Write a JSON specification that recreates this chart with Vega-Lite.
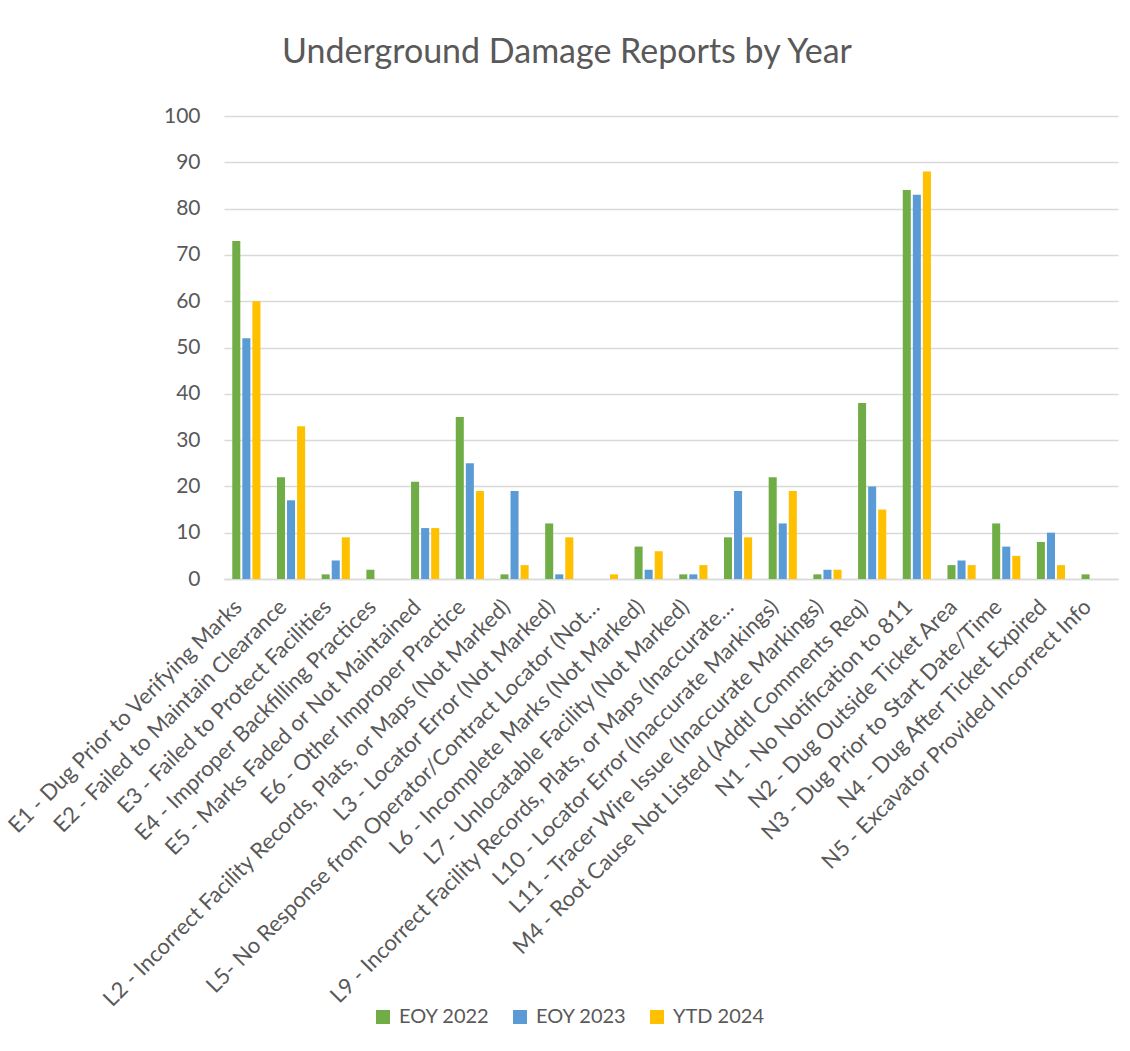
{
  "$schema": "https://vega.github.io/schema/vega-lite/v6.json",
  "autosize": {"type": "none"},
  "width": 894,
  "height": 463,
  "padding": {"left": 224, "top": 116, "right": 12, "bottom": 472},
  "background": "white",
  "title": {
    "text": "Underground Damage Reports by Year",
    "font": "Lato",
    "fontSize": 34,
    "fontWeight": 400,
    "color": "#595959",
    "anchor": "middle",
    "dx": -104,
    "offset": 35
  },
  "data": {
    "values": [
      {"cause": "E1 - Dug Prior to Verifying Marks", "series": "EOY 2022", "value": 73},
      {"cause": "E1 - Dug Prior to Verifying Marks", "series": "EOY 2023", "value": 52},
      {"cause": "E1 - Dug Prior to Verifying Marks", "series": "YTD 2024", "value": 60},
      {"cause": "E2 - Failed to Maintain Clearance", "series": "EOY 2022", "value": 22},
      {"cause": "E2 - Failed to Maintain Clearance", "series": "EOY 2023", "value": 17},
      {"cause": "E2 - Failed to Maintain Clearance", "series": "YTD 2024", "value": 33},
      {"cause": "E3 - Failed to Protect Facilities", "series": "EOY 2022", "value": 1},
      {"cause": "E3 - Failed to Protect Facilities", "series": "EOY 2023", "value": 4},
      {"cause": "E3 - Failed to Protect Facilities", "series": "YTD 2024", "value": 9},
      {"cause": "E4 - Improper Backfilling Practices", "series": "EOY 2022", "value": 2},
      {"cause": "E4 - Improper Backfilling Practices", "series": "EOY 2023", "value": 0},
      {"cause": "E4 - Improper Backfilling Practices", "series": "YTD 2024", "value": 0},
      {"cause": "E5 - Marks Faded or Not Maintained", "series": "EOY 2022", "value": 21},
      {"cause": "E5 - Marks Faded or Not Maintained", "series": "EOY 2023", "value": 11},
      {"cause": "E5 - Marks Faded or Not Maintained", "series": "YTD 2024", "value": 11},
      {"cause": "E6 - Other Improper Practice", "series": "EOY 2022", "value": 35},
      {"cause": "E6 - Other Improper Practice", "series": "EOY 2023", "value": 25},
      {"cause": "E6 - Other Improper Practice", "series": "YTD 2024", "value": 19},
      {"cause": "L2 - Incorrect Facility Records, Plats, or Maps (Not Marked)", "series": "EOY 2022", "value": 1},
      {"cause": "L2 - Incorrect Facility Records, Plats, or Maps (Not Marked)", "series": "EOY 2023", "value": 19},
      {"cause": "L2 - Incorrect Facility Records, Plats, or Maps (Not Marked)", "series": "YTD 2024", "value": 3},
      {"cause": "L3 - Locator Error (Not Marked)", "series": "EOY 2022", "value": 12},
      {"cause": "L3 - Locator Error (Not Marked)", "series": "EOY 2023", "value": 1},
      {"cause": "L3 - Locator Error (Not Marked)", "series": "YTD 2024", "value": 9},
      {"cause": "L5- No Response from Operator/Contract Locator (Not…", "series": "EOY 2022", "value": 0},
      {"cause": "L5- No Response from Operator/Contract Locator (Not…", "series": "EOY 2023", "value": 0},
      {"cause": "L5- No Response from Operator/Contract Locator (Not…", "series": "YTD 2024", "value": 1},
      {"cause": "L6 - Incomplete Marks (Not Marked)", "series": "EOY 2022", "value": 7},
      {"cause": "L6 - Incomplete Marks (Not Marked)", "series": "EOY 2023", "value": 2},
      {"cause": "L6 - Incomplete Marks (Not Marked)", "series": "YTD 2024", "value": 6},
      {"cause": "L7 - Unlocatable Facility (Not Marked)", "series": "EOY 2022", "value": 1},
      {"cause": "L7 - Unlocatable Facility (Not Marked)", "series": "EOY 2023", "value": 1},
      {"cause": "L7 - Unlocatable Facility (Not Marked)", "series": "YTD 2024", "value": 3},
      {"cause": "L9 - Incorrect Facility Records, Plats, or Maps (Inaccurate…", "series": "EOY 2022", "value": 9},
      {"cause": "L9 - Incorrect Facility Records, Plats, or Maps (Inaccurate…", "series": "EOY 2023", "value": 19},
      {"cause": "L9 - Incorrect Facility Records, Plats, or Maps (Inaccurate…", "series": "YTD 2024", "value": 9},
      {"cause": "L10 - Locator Error (Inaccurate Markings)", "series": "EOY 2022", "value": 22},
      {"cause": "L10 - Locator Error (Inaccurate Markings)", "series": "EOY 2023", "value": 12},
      {"cause": "L10 - Locator Error (Inaccurate Markings)", "series": "YTD 2024", "value": 19},
      {"cause": "L11 - Tracer Wire Issue (Inaccurate Markings)", "series": "EOY 2022", "value": 1},
      {"cause": "L11 - Tracer Wire Issue (Inaccurate Markings)", "series": "EOY 2023", "value": 2},
      {"cause": "L11 - Tracer Wire Issue (Inaccurate Markings)", "series": "YTD 2024", "value": 2},
      {"cause": "M4 - Root Cause Not Listed (Addtl Comments Req)", "series": "EOY 2022", "value": 38},
      {"cause": "M4 - Root Cause Not Listed (Addtl Comments Req)", "series": "EOY 2023", "value": 20},
      {"cause": "M4 - Root Cause Not Listed (Addtl Comments Req)", "series": "YTD 2024", "value": 15},
      {"cause": "N1 - No Notification to 811", "series": "EOY 2022", "value": 84},
      {"cause": "N1 - No Notification to 811", "series": "EOY 2023", "value": 83},
      {"cause": "N1 - No Notification to 811", "series": "YTD 2024", "value": 88},
      {"cause": "N2 - Dug Outside Ticket Area", "series": "EOY 2022", "value": 3},
      {"cause": "N2 - Dug Outside Ticket Area", "series": "EOY 2023", "value": 4},
      {"cause": "N2 - Dug Outside Ticket Area", "series": "YTD 2024", "value": 3},
      {"cause": "N3 - Dug Prior to Start Date/Time", "series": "EOY 2022", "value": 12},
      {"cause": "N3 - Dug Prior to Start Date/Time", "series": "EOY 2023", "value": 7},
      {"cause": "N3 - Dug Prior to Start Date/Time", "series": "YTD 2024", "value": 5},
      {"cause": "N4 - Dug After Ticket Expired", "series": "EOY 2022", "value": 8},
      {"cause": "N4 - Dug After Ticket Expired", "series": "EOY 2023", "value": 10},
      {"cause": "N4 - Dug After Ticket Expired", "series": "YTD 2024", "value": 3},
      {"cause": "N5 - Excavator Provided Incorrect Info", "series": "EOY 2022", "value": 1},
      {"cause": "N5 - Excavator Provided Incorrect Info", "series": "EOY 2023", "value": 0},
      {"cause": "N5 - Excavator Provided Incorrect Info", "series": "YTD 2024", "value": 0}
    ]
  },
  "mark": {"type": "bar"},
  "encoding": {
    "x": {
      "field": "cause",
      "type": "nominal",
      "sort": null,
      "title": null,
      "scale": {"paddingInner": 0.37, "paddingOuter": 0.185},
      "axis": {
        "labelAngle": -45,
        "labelAlign": "right",
        "labelBaseline": "middle",
        "labelLimit": 0,
        "labelFont": "Lato",
        "labelFontSize": 22,
        "labelColor": "#595959",
        "labelPadding": 24,
        "labelOffset": -8,
        "ticks": false,
        "domainColor": "#D9D9D9",
        "domainWidth": 1.5,
        "grid": false
      }
    },
    "xOffset": {
      "field": "series",
      "type": "nominal",
      "scale": {"paddingInner": 0.2}
    },
    "y": {
      "field": "value",
      "type": "quantitative",
      "title": null,
      "scale": {"domain": [0, 100]},
      "axis": {
        "values": [0, 10, 20, 30, 40, 50, 60, 70, 80, 90, 100],
        "domain": false,
        "ticks": false,
        "labelFont": "Lato",
        "labelFontSize": 21,
        "labelColor": "#595959",
        "labelPadding": 24,
        "gridColor": "#D9D9D9",
        "gridWidth": 1.5
      }
    },
    "color": {
      "field": "series",
      "type": "nominal",
      "title": null,
      "scale": {
        "domain": ["EOY 2022", "EOY 2023", "YTD 2024"],
        "range": ["#70AD47", "#5B9BD5", "#FFC000"]
      },
      "legend": {
        "orient": "none",
        "direction": "horizontal",
        "legendX": 149,
        "legendY": 891,
        "symbolType": "square",
        "symbolSize": 196,
        "symbolStrokeWidth": 0,
        "symbolOpacity": 1,
        "labelFont": "Lato",
        "labelFontSize": 20,
        "labelColor": "#595959",
        "columnPadding": 20,
        "labelOffset": 6
      }
    }
  },
  "config": {
    "view": {"stroke": null}
  }
}
